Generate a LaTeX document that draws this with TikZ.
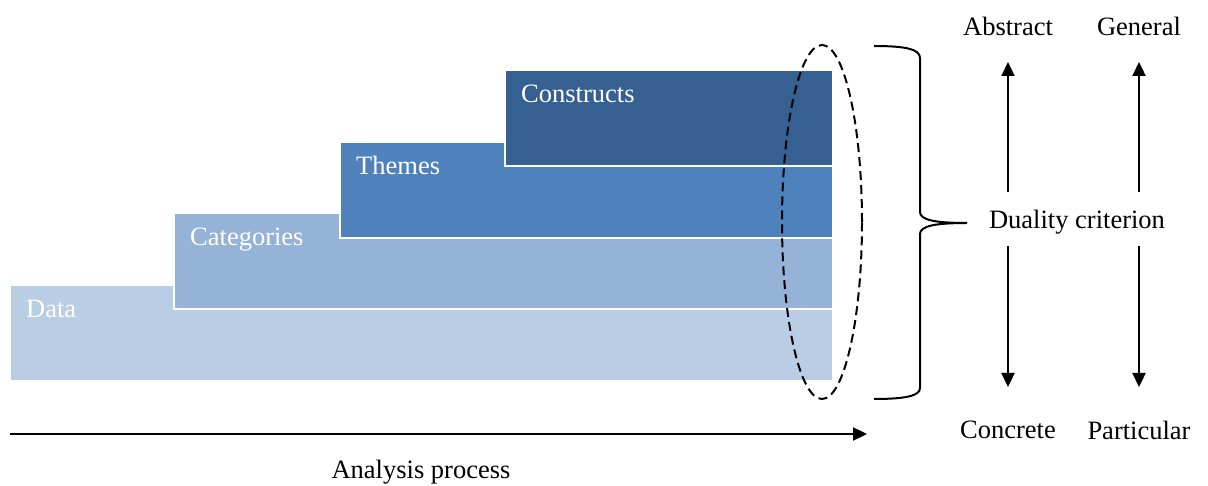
\documentclass[tikz,border=0pt]{standalone}
\usepackage{fontspec}
\setmainfont{Liberation Serif}
\usetikzlibrary{arrows.meta,shapes.geometric}
\definecolor{cData}{HTML}{B9CDE5}
\definecolor{cCat}{HTML}{95B3D7}
\definecolor{cThm}{HTML}{4F81BD}
\definecolor{cCon}{HTML}{366092}
\begin{document}
\begin{tikzpicture}[x=1pt,y=-1pt,
  txt/.style={font=\fontsize{26.5}{31}\selectfont, inner sep=0pt},
  wtxt/.style={txt, text=white, anchor=base west},
  band/.style={draw=white, line width=2pt, anchor=north west, inner sep=0pt, outer sep=0pt, minimum height=96pt},
  arr/.style={line width=2.3pt, -{Triangle[length=14pt,width=13pt]}},
]
\useasboundingbox (0,0) rectangle (1208,486);
\fill[white] (0,0) rectangle (1208,486);
% bands
\node[band, fill=cData, minimum width=823pt] (data) at (10,285) {};
\node[band, fill=cCat, minimum width=659pt] (cat) at (174,213) {};
\node[band, fill=cThm, minimum width=493pt] (thm) at (340,142) {};
\node[band, fill=cCon, minimum width=328pt] (con) at (505,70) {};
\node[wtxt] (tdata) at ([shift={(16,33)}]data.north west) {Data};
\node[wtxt] (tcat) at ([shift={(16,33)}]cat.north west) {Categories};
\node[wtxt] (tthm) at ([shift={(16,33)}]thm.north west) {Themes};
\node[wtxt] (tcon) at ([shift={(16,33)}]con.north west) {Constructs};
% dashed oval
\node[ellipse, draw, dash pattern=on 9pt off 5pt, line width=2pt, minimum width=80pt, minimum height=354pt, inner sep=0pt] (oval) at (822,222) {};
% brace
\coordinate (btip) at (967,223);
\draw[line width=2pt] (874,46) .. controls (905,46) and (920,49) .. (920,58) -- (920,212)
  .. controls (920,220) and (935,223) .. (btip)
  .. controls (935,223) and (920,226) .. (920,234) -- (920,388)
  .. controls (920,396) and (905,399) .. (874,399);
% right labels
\node[txt] (abs) at (1008,26) {Abstract};
\node[txt] (gen) at (1139,26) {General};
\node[txt] (dual) at (1077,222) {Duality criterion};
\node[txt] (conc) at (1008,430) {Concrete};
\node[txt] (part) at (1139,430) {Particular};
\coordinate (a1s) at (1008,192); \coordinate (a1e) at (1008,62);
\coordinate (a2s) at (1008,246); \coordinate (a2e) at (1008,387);
\coordinate (b1s) at (1139,192); \coordinate (b1e) at (1139,62);
\coordinate (b2s) at (1139,246); \coordinate (b2e) at (1139,387);
\draw[arr] (a1s) -- (a1e);
\draw[arr] (a2s) -- (a2e);
\draw[arr] (b1s) -- (b1e);
\draw[arr] (b2s) -- (b2e);
% process arrow
\coordinate (ps) at (10,434);
\coordinate (pe) at (867,434);
\draw[arr] (ps) -- (pe);
\node[txt] (proc) at (421,472) {Analysis process};
\end{tikzpicture}
\end{document}
